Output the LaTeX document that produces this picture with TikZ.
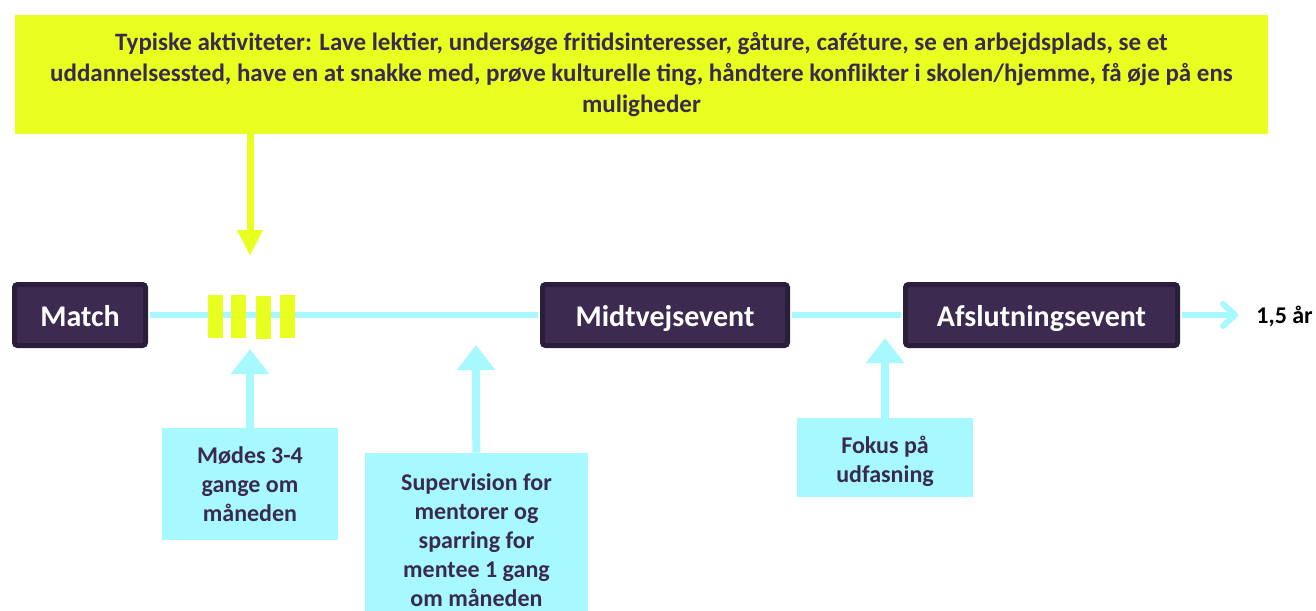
\documentclass[tikz,border=0pt]{standalone}
\usepackage{fontspec}
\setmainfont{Carlito}
\usetikzlibrary{arrows.meta}
\definecolor{eventfill}{HTML}{3D2A51}
\definecolor{eventedge}{HTML}{2B1E3A}
\definecolor{lime}{HTML}{E8FF1F}
\definecolor{aqua}{HTML}{A8F9FF}
\definecolor{ink}{HTML}{3B2A4F}

\begin{document}
\begin{tikzpicture}[
    x=0.5pt, y=-0.5pt,
    activity/.style={
      fill=lime, text=ink, align=center,
      minimum width=626.5pt, minimum height=59.5pt,
      font=\fontsize{12.5}{15.5}\selectfont\bfseries
    },
    event/.style={
      draw=eventedge, fill=eventfill, line width=2.5pt, rounded corners=1.5pt,
      minimum height=30.5pt, text=white, text height=11pt, text depth=0pt,
      font=\fontsize{15}{17}\selectfont\bfseries
    },
    note/.style={
      fill=aqua, text=ink, align=center, inner sep=0pt,
      font=\fontsize{12}{14.5}\selectfont\bfseries
    },
    bar/.style={
      fill=lime, minimum width=7.5pt, minimum height=21.5pt, inner sep=0pt
    },
    timeline/.style={
      draw=aqua, line width=3pt, shorten <=1pt
    },
    uparrow/.style={
      draw=aqua, line width=4pt, -{Triangle[width=18.5pt,length=12.5pt]}
    },
    downarrow/.style={
      draw=lime, line width=3.5pt, -{Triangle[width=12pt,length=13pt]}
    }
  ]
    \useasboundingbox (0,0) rectangle (1316,610);
    \clip (0,0) rectangle (1316,610);

    % activities on top
    \node[activity] (act) at (641.5,74.5) {Typiske aktiviteter: Lave lektier, undersøge fritidsinteresser, gåture, caféture, se en arbejdsplads, se et\\
      uddannelsessted, have en at snakke med, prøve kulturelle ting, håndtere konflikter i skolen/hjemme, få øje på ens\\
      muligheder};
    \coordinate (acttip) at (250,256);
    \draw[downarrow] (act.south -| acttip) -- (acttip);

    % events on the line
    \node[event, minimum width=65.5pt]  (match) at (80,315)     {Match};
    \node[event, minimum width=122.5pt] (midt)  at (665,315)    {Midtvejsevent};
    \node[event, minimum width=136pt]   (afsl)  at (1041.5,315) {Afslutningsevent};
    \node[anchor=west, inner sep=0pt, font=\fontsize{12}{14}\selectfont\bfseries] (year) at (1256,316) {1,5 år};
    \coordinate (lineend) at (1238,315);

    % timeline
    \draw[timeline, shorten >=1pt] (match) -- (midt);
    \draw[timeline, shorten >=1pt] (midt) -- (afsl);
    \draw[timeline, -{Straight Barb[length=6pt,width=11pt,round]}] (afsl) -- (lineend);

    % meetings
    \foreach \x/\y [count=\i] in {215.5/316.5, 238.5/316.5, 263.5/317.5, 287.5/316.5}
      \node[bar] (bar\i) at (\x,\y) {};

    % notes below
    \node[note, minimum width=88pt, minimum height=56pt]    (meet)  at (250,484)   {Mødes 3-4\\gange om\\måneden};
    \node[note, minimum width=111.5pt, minimum height=87pt] (super) at (476.5,540) {Supervision for\\mentorer og\\sparring for\\mentee 1 gang\\om måneden};
    \node[note, minimum width=88pt, minimum height=39.5pt, text height=27pt] (focus) at (885,457.5) {Fokus på\\udfasning};

    \coordinate (meettip)  at (250,349);
    \coordinate (supertip) at (476,345);
    \coordinate (focustip) at (885,338);
    \draw[uparrow] (meet)  -- (meettip);
    \draw[uparrow] (super) -- (supertip);
    \draw[uparrow] (focus) -- (focustip);
  \end{tikzpicture}
\end{document}
